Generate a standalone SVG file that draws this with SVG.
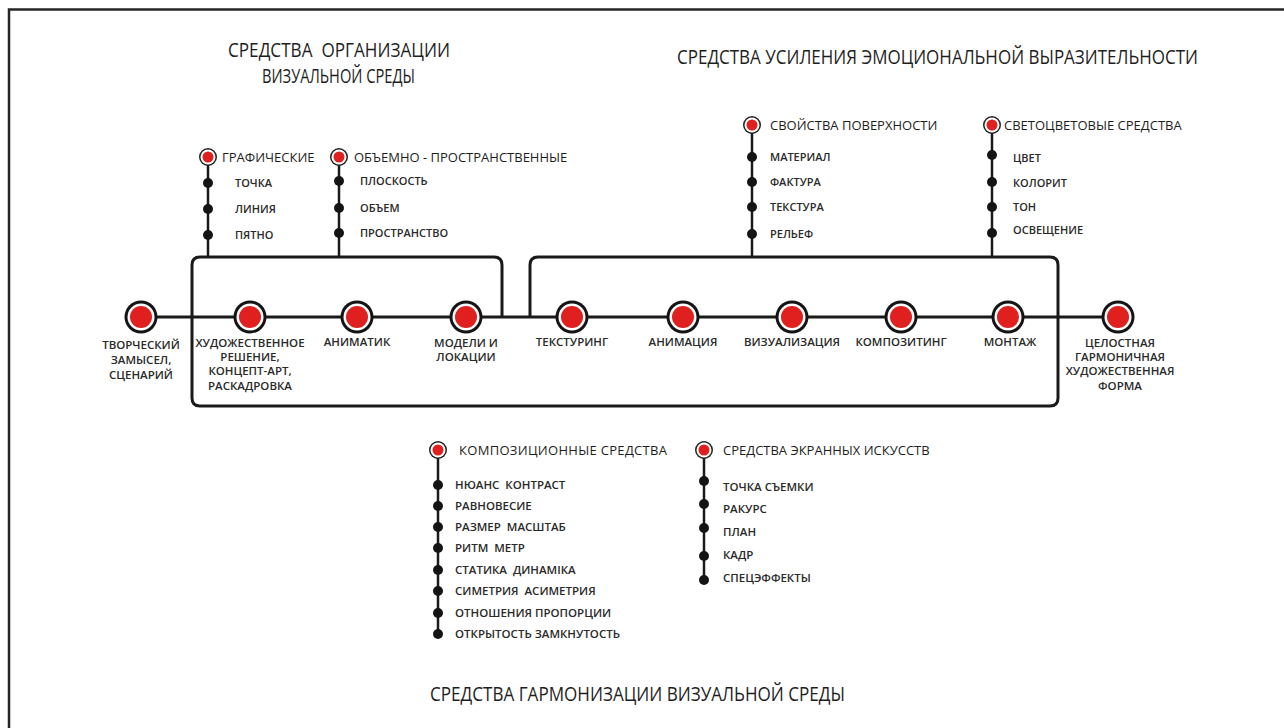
<svg xmlns="http://www.w3.org/2000/svg" width="1284" height="728" viewBox="0 0 1284 728">
<defs>
<style>
.t{font-family:"Open Sans","Noto Sans",sans-serif;fill:#1e1e1e;white-space:pre;}
.title{font-size:20.5px;}
.hd{font-size:13px;}
.lb{font-size:11px;font-weight:600;fill:#2a2a2a;}
.lb2{font-size:11.5px;font-weight:600;fill:#2a2a2a;}
.nl{font-size:11.5px;font-weight:600;fill:#2a2a2a;text-anchor:middle;}
.ln{stroke:#1a1a1a;stroke-width:3;fill:none;}
.thin{stroke:#1a1a1a;stroke-width:2.5;fill:none;}
</style>
<g id="big">
<circle r="16.5" fill="#141414"/><circle r="13.5" fill="#fff"/><circle r="11" fill="#e0201f"/>
</g>
<g id="sm">
<circle r="9" fill="#222"/><circle r="7.5" fill="#fff"/><circle r="5.5" fill="#e0201f"/>
</g>
<circle id="dot" r="5" fill="#141414"/>
</defs>
<rect width="1284" height="728" fill="#fff"/>
<path d="M9,728 V9.5 H1284" stroke="#262626" stroke-width="2.5" fill="none"/>

<text class="t title" x="228" y="57" textLength="222" lengthAdjust="spacingAndGlyphs" xml:space="preserve">СРЕДСТВА  ОРГАНИЗАЦИИ</text>
<text class="t title" x="262" y="83" textLength="153" lengthAdjust="spacingAndGlyphs">ВИЗУАЛЬНОЙ СРЕДЫ</text>
<text class="t title" x="677" y="64" textLength="521" lengthAdjust="spacingAndGlyphs">СРЕДСТВА УСИЛЕНИЯ ЭМОЦИОНАЛЬНОЙ ВЫРАЗИТЕЛЬНОСТИ</text>
<text class="t title" x="430" y="701" textLength="415" lengthAdjust="spacingAndGlyphs">СРЕДСТВА ГАРМОНИЗАЦИИ ВИЗУАЛЬНОЙ СРЕДЫ</text>

<g id="connectors">
<line class="ln" x1="141" y1="317" x2="1118" y2="317"/>
<path class="ln" d="M502,317 V265 Q502,257 494,257 H200 Q192,257 192,265 V398 Q192,406 200,406 H1050 Q1058,406 1058,398 V265 Q1058,257 1050,257 H538 Q530,257 530,265 V317"/>
<line class="thin" x1="208" y1="157" x2="208" y2="257"/>
<line class="thin" x1="339" y1="157" x2="339" y2="257"/>
<line class="thin" x1="752" y1="125" x2="752" y2="257"/>
<line class="thin" x1="992" y1="125" x2="992" y2="257"/>
<line class="thin" x1="438" y1="450" x2="438" y2="634"/>
<line class="thin" x1="704" y1="450" x2="704" y2="580"/>
</g>

<g id="n-tvorch"><use href="#big" x="141" y="317"/><text class="t nl"><tspan x="141" y="349">ТВОРЧЕСКИЙ</tspan><tspan x="141" y="364">ЗАМЫСЕЛ,</tspan><tspan x="141" y="379">СЦЕНАРИЙ</tspan></text></g>
<g id="n-hud"><use href="#big" x="250" y="317"/><text class="t nl"><tspan x="250" y="347">ХУДОЖЕСТВЕННОЕ</tspan><tspan x="250" y="361">РЕШЕНИЕ,</tspan><tspan x="250" y="375">КОНЦЕПТ-АРТ,</tspan><tspan x="250" y="390">РАСКАДРОВКА</tspan></text></g>
<g id="n-animatik"><use href="#big" x="357" y="317"/><text class="t nl" x="357" y="346">АНИМАТИК</text></g>
<g id="n-modeli"><use href="#big" x="466" y="317"/><text class="t nl"><tspan x="466" y="347">МОДЕЛИ И</tspan><tspan x="466" y="361">ЛОКАЦИИ</tspan></text></g>
<g id="n-tekst"><use href="#big" x="572" y="317"/><text class="t nl" x="572" y="346">ТЕКСТУРИНГ</text></g>
<g id="n-anim"><use href="#big" x="683" y="317"/><text class="t nl" x="683" y="346">АНИМАЦИЯ</text></g>
<g id="n-viz"><use href="#big" x="792" y="317"/><text class="t nl" x="792" y="346">ВИЗУАЛИЗАЦИЯ</text></g>
<g id="n-komp"><use href="#big" x="901" y="317"/><text class="t nl" x="901" y="346">КОМПОЗИТИНГ</text></g>
<g id="n-montazh"><use href="#big" x="1008" y="317"/><text class="t nl" x="1010" y="346">МОНТАЖ</text></g>
<g id="n-forma"><use href="#big" x="1118" y="317"/><text class="t nl"><tspan x="1120" y="347">ЦЕЛОСТНАЯ</tspan><tspan x="1120" y="361">ГАРМОНИЧНАЯ</tspan><tspan x="1120" y="375">ХУДОЖЕСТВЕННАЯ</tspan><tspan x="1120" y="390">ФОРМА</tspan></text></g>

<g id="g-graf">
<use href="#sm" x="208" y="157"/><text class="t hd" x="222" y="162">ГРАФИЧЕСКИЕ</text>
<use href="#dot" x="208" y="183"/><text class="t lb" x="235" y="187">ТОЧКА</text>
<use href="#dot" x="208" y="209"/><text class="t lb" x="235" y="213">ЛИНИЯ</text>
<use href="#dot" x="208" y="235"/><text class="t lb" x="235" y="239">ПЯТНО</text>
</g>
<g id="g-obem">
<use href="#sm" x="339" y="157"/><text class="t hd" x="354" y="162">ОБЪЕМНО - ПРОСТРАНСТВЕННЫЕ</text>
<use href="#dot" x="339" y="181"/><text class="t lb" x="360" y="185">ПЛОСКОСТЬ</text>
<use href="#dot" x="339" y="208"/><text class="t lb" x="360" y="212">ОБЪЕМ</text>
<use href="#dot" x="339" y="233"/><text class="t lb" x="360" y="237">ПРОСТРАНСТВО</text>
</g>
<g id="g-poverh">
<use href="#sm" x="752" y="125"/><text class="t hd" x="770" y="130">СВОЙСТВА ПОВЕРХНОСТИ</text>
<use href="#dot" x="752" y="157"/><text class="t lb" x="770" y="161">МАТЕРИАЛ</text>
<use href="#dot" x="752" y="182"/><text class="t lb" x="770" y="186">ФАКТУРА</text>
<use href="#dot" x="752" y="207"/><text class="t lb" x="770" y="211">ТЕКСТУРА</text>
<use href="#dot" x="752" y="234"/><text class="t lb" x="770" y="238">РЕЛЬЕФ</text>
</g>
<g id="g-svet">
<use href="#sm" x="992" y="125"/><text class="t hd" x="1004" y="130">СВЕТОЦВЕТОВЫЕ СРЕДСТВА</text>
<use href="#dot" x="992" y="155"/><text class="t lb" x="1013" y="162">ЦВЕТ</text>
<use href="#dot" x="992" y="182"/><text class="t lb" x="1013" y="187">КОЛОРИТ</text>
<use href="#dot" x="992" y="207"/><text class="t lb" x="1013" y="211">ТОН</text>
<use href="#dot" x="992" y="233"/><text class="t lb" x="1013" y="234">ОСВЕЩЕНИЕ</text>
</g>
<g id="g-kompoz">
<use href="#sm" x="438" y="450"/><text class="t hd" x="459" y="455" textLength="208" lengthAdjust="spacing">КОМПОЗИЦИОННЫЕ СРЕДСТВА</text>
<use href="#dot" x="438" y="485"/><text class="t lb2" x="455" y="489" xml:space="preserve">НЮАНС  КОНТРАСТ</text>
<use href="#dot" x="438" y="506"/><text class="t lb2" x="455" y="510">РАВНОВЕСИЕ</text>
<use href="#dot" x="438" y="527"/><text class="t lb2" x="455" y="531" xml:space="preserve">РАЗМЕР  МАСШТАБ</text>
<use href="#dot" x="438" y="548"/><text class="t lb2" x="455" y="552" xml:space="preserve">РИТМ  МЕТР</text>
<use href="#dot" x="438" y="570"/><text class="t lb2" x="455" y="574" xml:space="preserve">СТАТИКА  ДИНАМIКА</text>
<use href="#dot" x="438" y="591"/><text class="t lb2" x="455" y="595" xml:space="preserve">СИМЕТРИЯ  АСИМЕТРИЯ</text>
<use href="#dot" x="438" y="613"/><text class="t lb2" x="455" y="617">ОТНОШЕНИЯ ПРОПОРЦИИ</text>
<use href="#dot" x="438" y="634"/><text class="t lb2" x="455" y="638">ОТКРЫТОСТЬ ЗАМКНУТОСТЬ</text>
</g>
<g id="g-ekran">
<use href="#sm" x="704" y="450"/><text class="t hd" x="723" y="455">СРЕДСТВА ЭКРАННЫХ ИСКУССТВ</text>
<use href="#dot" x="704" y="481"/><text class="t lb2" x="723" y="491">ТОЧКА СЪЕМКИ</text>
<use href="#dot" x="704" y="504"/><text class="t lb2" x="723" y="513">РАКУРС</text>
<use href="#dot" x="704" y="528"/><text class="t lb2" x="723" y="536">ПЛАН</text>
<use href="#dot" x="704" y="556"/><text class="t lb2" x="723" y="559">КАДР</text>
<use href="#dot" x="704" y="580"/><text class="t lb2" x="723" y="582">СПЕЦЭФФЕКТЫ</text>
</g>
</svg>
